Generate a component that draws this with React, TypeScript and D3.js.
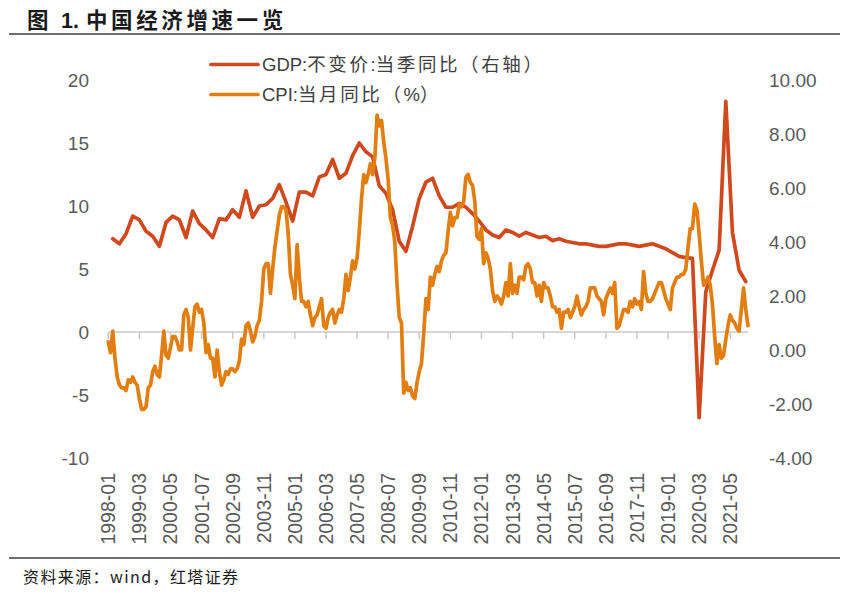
import React from "react";
import * as d3 from "d3";

// CPI: month-on-year-ago (%), monthly, 1998-01 .. 2022-01 (right axis)
const cpi: number[] = [
  0.3, -0.1, 0.7, -0.3, -1.0, -1.3, -1.4, -1.4, -1.5, -1.1, -1.2, -1.0,
  -1.2, -1.3, -1.8, -2.2, -2.2, -2.1, -1.4, -1.3, -0.8, -0.6, -0.9, -1.0,
  -0.2, 0.7, -0.2, -0.3, 0.1, 0.5, 0.5, 0.3, 0.0, 0.0, 1.3, 1.5,
  1.2, 0.0, 0.8, 1.6, 1.7, 1.4, 1.5, 1.0, -0.1, 0.2, -0.3, -0.3,
  -1.0, 0.0, -0.8, -1.3, -1.1, -0.8, -0.9, -0.7, -0.7, -0.8, -0.7, -0.4,
  0.4, 0.2, 0.9, 1.0, 0.7, 0.3, 0.5, 0.9, 1.1, 1.8, 3.0, 3.2,
  3.2, 2.1, 3.0, 3.8, 4.4, 5.0, 5.3, 5.3, 5.2, 4.3, 2.8, 2.4,
  1.9, 3.9, 2.7, 1.8, 1.8, 1.6, 1.8, 1.3, 0.9, 1.2, 1.3, 1.6,
  1.9, 0.9, 0.8, 1.2, 1.4, 1.5, 1.0, 1.3, 1.5, 1.4, 1.9, 2.8,
  2.2, 2.7, 3.3, 3.0, 3.4, 4.4, 5.6, 6.5, 6.2, 6.5, 6.9, 6.5,
  7.1, 8.7, 8.3, 8.5, 7.7, 7.1, 6.3, 4.9, 4.6, 4.0, 2.4, 1.2,
  1.0, -1.6, -1.2, -1.5, -1.4, -1.7, -1.8, -1.2, -0.8, -0.5, 0.6, 1.9,
  1.5, 2.7, 2.4, 2.8, 3.1, 2.9, 3.3, 3.5, 3.6, 4.4, 5.1, 4.6,
  4.9, 4.9, 5.4, 5.3, 5.5, 6.4, 6.5, 6.2, 6.1, 5.5, 4.2, 4.1,
  4.5, 3.2, 3.6, 3.4, 3.0, 2.2, 1.8, 2.0, 1.9, 1.7, 2.0, 2.5,
  2.0, 3.2, 2.1, 2.4, 2.1, 2.7, 2.7, 2.6, 3.1, 3.2, 3.0, 2.5,
  2.5, 2.0, 2.4, 1.8, 2.5, 2.3, 2.3, 2.0, 1.6, 1.6, 1.4, 1.5,
  0.8, 1.4, 1.4, 1.5, 1.2, 1.4, 1.6, 2.0, 1.6, 1.3, 1.5, 1.6,
  1.8, 2.3, 2.3, 2.3, 2.0, 1.9, 1.8, 1.3, 1.9, 2.1, 2.3, 2.1,
  2.5, 0.8, 0.9, 1.2, 1.5, 1.5, 1.4, 1.8, 1.6, 1.9, 1.7, 1.8,
  1.5, 2.9, 2.1, 1.8, 1.8, 1.9, 2.1, 2.3, 2.5, 2.5, 2.2, 1.9,
  1.7, 1.5, 2.3, 2.5, 2.7, 2.7, 2.8, 2.8, 3.0, 3.8, 4.5, 4.5,
  5.4, 5.2, 4.3, 3.3, 2.4, 2.5, 2.7, 2.4, 1.7, 0.5, -0.5, 0.2,
  -0.3, -0.2, 0.4, 0.9, 1.3, 1.1, 1.0, 0.8, 0.7, 1.5, 2.3, 1.5,
  0.9,
];

// GDP: constant price, quarterly y/y (%), 1998Q1 .. 2021Q4 (plotted at quarter-end month)
const gdp: number[] = [
  7.4, 7.0, 7.8, 9.2,
  8.9, 8.0, 7.6, 6.8,
  8.7, 9.2, 8.9, 7.5,
  9.6, 8.6, 8.1, 7.5,
  9.0, 8.9, 9.7, 9.1,
  11.2, 9.1, 10.0, 10.1,
  10.6, 11.7, 10.3, 8.8,
  11.1, 11.1, 10.8, 12.3,
  12.5, 13.7, 12.2, 12.6,
  14.0, 15.0, 14.3, 13.9,
  11.6, 11.0, 9.7, 7.2,
  6.4, 8.4, 10.6, 11.9,
  12.2, 10.8, 9.9, 9.9,
  10.2, 9.9, 9.4, 8.8,
  8.1, 7.7, 7.5, 8.1,
  7.9, 7.6, 7.9, 7.7,
  7.5, 7.6, 7.25, 7.4,
  7.2, 7.1, 7.0, 7.0,
  6.9, 6.8, 6.8, 6.9,
  7.0, 7.0, 6.9, 6.8,
  6.9, 7.0, 6.8, 6.6,
  6.3, 6.0, 5.9, 5.85,
  -6.8, 3.2, 4.9, 6.5,
  18.3, 7.9, 4.9, 4.0,
];

const tickLabels: string[] = [
  "1998-01", "1999-03", "2000-05", "2001-07", "2002-09", "2003-11", "2005-01",
  "2006-03", "2007-05", "2008-07", "2009-09", "2010-11", "2012-01", "2013-03",
  "2014-05", "2015-07", "2016-09", "2017-11", "2019-01", "2020-03", "2021-05",
];

const leftTicks: number[] = [-10, -5, 0, 5, 10, 15, 20];
const rightTicks: number[] = [-4, -2, 0, 2, 4, 6, 8, 10];

const legendLabels: string[] = ["GDP:不变价:当季同比（右轴）", "CPI:当月同比（%）"];

const START_YEAR = 1998;
const W = 865;
const H = 596;
const GDP_COLOR = "#CF491D";
const CPI_COLOR = "#E27E10";
const TEXT_COLOR = "#595959";
const FONT = "'Liberation Sans', Arial, 'Noto Sans CJK SC', sans-serif";

const monthIndex = (label: string) => {
  const [y, m] = label.split("-").map(Number);
  return (y - START_YEAR) * 12 + (m - 1);
};

// split a label into CJK / non-CJK runs so CJK glyphs can get wider spacing
const splitRuns = (s: string) => {
  const runs: { text: string; cjk: boolean }[] = [];
  for (const ch of s) {
    const cjk = /[\u3000-\u9fff\uff00-\uffef]/.test(ch);
    const last = runs[runs.length - 1];
    if (last && last.cjk === cjk) last.text += ch;
    else runs.push({ text: ch, cjk });
  }
  return runs;
};

export default function App() {
  const x = d3.scaleLinear().domain([0, cpi.length - 1]).range([108.3, 748]);
  const yL = d3.scaleLinear().domain([-10, 20]).range([458, 80]);
  const yR = d3.scaleLinear().domain([-4, 10]).range([458, 80]);

  const cpiLine = d3
    .line<number>()
    .x((_, i) => x(i))
    .y((d) => yR(d))(cpi) as string;

  const gdpLine = d3
    .line<number>()
    .x((_, i) => x(i * 3 + 2))
    .y((d) => yL(d))(gdp) as string;

  const axisY = yL(0);

  return (
    <svg
      width={W}
      height={H}
      viewBox={`0 0 ${W} ${H}`}
      style={{ position: "absolute", left: 0, top: 0, background: "#fff" }}
    >
      <rect x={0} y={0} width={W} height={H} fill="#fff" />
      {/* Title */}
      <text
        y={28}
        fontFamily="'Noto Sans CJK SC', sans-serif"
        fontWeight="bold"
        fontSize={21.5}
        fill="#1a1a1a"
      >
        <tspan x={27}>图</tspan>
        <tspan x={61} fontFamily="'Liberation Sans', Arial, sans-serif">1.</tspan>
        <tspan x={86} letterSpacing={3.6}>中国经济增速一览</tspan>
      </text>
      <line x1={9} x2={840} y1={34} y2={34} stroke="#404040" strokeWidth={1.5} />

      {/* zero axis */}
      <line x1={x(0)} x2={x(cpi.length - 1)} y1={axisY} y2={axisY} stroke="#c8c8c8" strokeWidth={1.5} />
      {tickLabels.map((t) => {
        const xi = x(monthIndex(t));
        return (
          <g key={t}>
            <line x1={xi} x2={xi} y1={axisY} y2={axisY + 7} stroke="#c8c8c8" strokeWidth={1.5} />
            <text
              transform={`translate(${xi},473) rotate(-90)`}
              textAnchor="end"
              dominantBaseline="central"
              fontFamily={FONT}
              fontSize={19.5}
              fill={TEXT_COLOR}
            >
              {t}
            </text>
          </g>
        );
      })}

      {/* left axis labels */}
      {leftTicks.map((v) => (
        <text
          key={"l" + v}
          x={89}
          y={yL(v)}
          textAnchor="end"
          dominantBaseline="central"
          fontFamily={FONT}
          fontSize={19}
          fill={TEXT_COLOR}
        >
          {String(v)}
        </text>
      ))}
      {/* right axis labels */}
      {rightTicks.map((v) => (
        <text
          key={"r" + v}
          x={769}
          y={yR(v)}
          textAnchor="start"
          dominantBaseline="central"
          fontFamily={FONT}
          fontSize={19}
          fill={TEXT_COLOR}
        >
          {v.toFixed(2)}
        </text>
      ))}

      {/* series */}
      <path d={gdpLine} fill="none" stroke={GDP_COLOR} strokeWidth={3.7} strokeLinejoin="round" strokeLinecap="round" />
      <path d={cpiLine} fill="none" stroke={CPI_COLOR} strokeWidth={3.7} strokeLinejoin="round" strokeLinecap="round" />

      {/* legend */}
      {legendLabels.map((label, i) => (
        <g key={label}>
          <line
            x1={211}
            x2={258}
            y1={64.5 + i * 30}
            y2={64.5 + i * 30}
            stroke={i === 0 ? GDP_COLOR : CPI_COLOR}
            strokeWidth={3.7}
            strokeLinecap="round"
          />
          <text x={262} y={71 + i * 30} fontFamily={FONT} fontSize={18.5} fill="#404040">
            {splitRuns(label).map((r, k) => (
              <tspan key={k} letterSpacing={r.cjk ? 2.6 : 0}>
                {r.text}
              </tspan>
            ))}
          </text>
        </g>
      ))}

      {/* footer */}
      <line x1={9} x2={840} y1={558} y2={558} stroke="#404040" strokeWidth={1.5} />
      <text
        x={23}
        y={583}
        fontFamily="'Noto Sans CJK SC', sans-serif"
        fontSize={16}
        letterSpacing={1.4}
        fill="#1a1a1a"
      >
        资料来源：wind，红塔证券
      </text>
    </svg>
  );
}
